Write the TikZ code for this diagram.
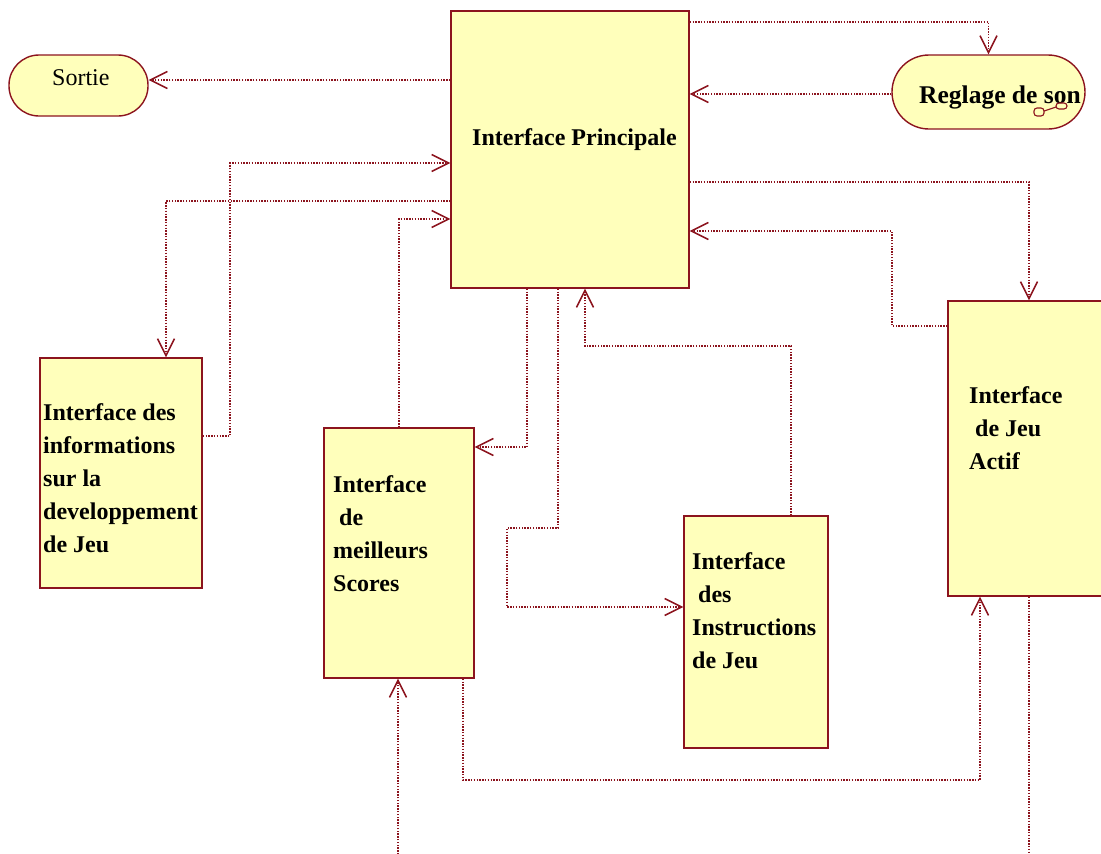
\documentclass[tikz,border=0pt]{standalone}
\usepackage{fontspec}
\setmainfont{Liberation Serif}
\usetikzlibrary{arrows.meta,calc}
\definecolor{bordeaux}{RGB}{140,20,30}
\definecolor{pale}{RGB}{255,255,187}
\begin{document}
\begin{tikzpicture}[x=1pt,y=-1pt,
  box/.style={draw=bordeaux, line width=1.4pt, fill=pale, inner sep=0pt, rectangle},
  stadium/.style={box, rounded corners=#1},
  lbl/.style={anchor=north west, inner sep=0pt, align=left, font=\fontsize{24}{33}\selectfont\bfseries},
  conn/.style={draw=bordeaux, line width=1.3pt, dash pattern=on 1.4pt off 1.4pt},
  arr/.style={conn, -{Straight Barb[length=17pt,width=17pt,line width=1.5pt]}}]
\useasboundingbox (0,0) rectangle (1101,854);
\clip (0,0) rectangle (1101,854);

% boxes
\node[stadium=30pt, minimum width=139pt, minimum height=61pt] (sortie) at (78.5,85.5) {};
\node[box, minimum width=238pt, minimum height=277pt] (P) at (570,149.5) {};
\node[stadium=37pt, minimum width=193pt, minimum height=74pt] (reglage) at (988.5,92) {};
\node[box, minimum width=162pt, minimum height=230pt] (info) at (121,473) {};
\node[box, minimum width=150pt, minimum height=250pt] (scores) at (399,553) {};
\node[box, minimum width=144pt, minimum height=232pt] (instr) at (756,632) {};
\node[box, minimum width=162pt, minimum height=295pt] (actif) at (1029,448.5) {};

% texts
\node[anchor=north west, inner sep=0pt, font=\fontsize{24}{33}\selectfont] (tsortie) at (52,69) {Sortie};
\node[lbl] (tP) at (472,128) {Interface Principale};
\node[lbl, font=\fontsize{25.5}{33}\selectfont\bfseries] (treglage) at (919,86) {Reglage de son};
\node[lbl] (tinfo) at (43,403) {Interface des\\informations\\sur la\\developpement\\de Jeu};
\node[lbl] (tscores) at (333,475) {Interface\\\hspace*{6pt}de\\meilleurs\\Scores};
\node[lbl] (tinstr) at (692,552) {Interface\\\hspace*{6pt}des\\Instructions\\de Jeu};
\node[lbl] (tactif) at (969,386) {Interface\\\hspace*{6pt}de Jeu\\Actif};

% small icon in reglage
\draw[bordeaux, line width=1.1pt, rounded corners=3pt] (1034,108) rectangle (1044,116);
\draw[bordeaux, line width=1.1pt, rounded corners=3pt] (1056,103) rectangle (1067,109);
\draw[bordeaux, line width=1.1pt] (1044,111) -- (1056,107);

% free ends
\coordinate (in1) at (398,860);
\coordinate (out1) at (1029,860);

% connectors
\draw[arr] (P.west |- 0,80) -- (sortie.east |- 0,80);
\draw[arr] (P.east |- 0,22) -| (reglage.north);
\draw[arr] (reglage.west |- 0,94) -- (P.east |- 0,94);
\draw[arr] (info.east |- 0,436) -| (230,163) -- (P.west |- 0,163);
\draw[arr] (P.west |- 0,201) -| (info.north -| 166,0);
\draw[arr] (scores.north) |- (P.west |- 0,219);
\draw[arr] (P.south -| 527,0) |- (scores.east |- 0,447);
\draw[arr] (P.south -| 558,0) |- (507,528) |- (instr.west |- 0,607);
\draw[arr] (instr.north -| 791,0) |- (585,346) -- (P.south -| 585,0);
\draw[arr] (P.east |- 0,182) -| (actif.north);
\draw[arr] (actif.west |- 0,326) -| (892,231) -- (P.east |- 0,231);
\draw[arr] (scores.south -| 463,0) |- (980,780) -- (actif.south -| 980,0);
\draw[arr] (in1) -- (scores.south -| 398,0);
\draw[conn] (actif.south) -- (out1);
\end{tikzpicture}
\end{document}
